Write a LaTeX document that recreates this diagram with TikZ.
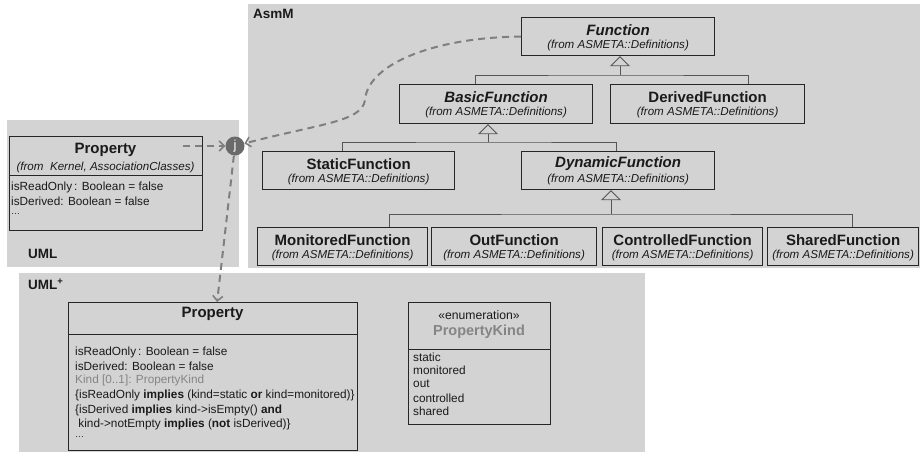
\documentclass[tikz,border=0pt]{standalone}
\usepackage{fontspec}
\setmainfont{Liberation Sans}
\usetikzlibrary{arrows.meta,calc}

\definecolor{pkgfill}{HTML}{D3D3D3}
\definecolor{boxline}{HTML}{262626}
\definecolor{txt}{HTML}{1A1A1A}
\definecolor{dimtxt}{HTML}{858585}
\definecolor{linkgray}{HTML}{7F7F7F}
\definecolor{treeline}{HTML}{555555}
\definecolor{joinfill}{HTML}{6A6A6A}

\tikzset{
  pkg/.style={fill=pkgfill, draw=none},
  pkglabel/.style={anchor=west, inner sep=0, text=txt, font=\fontsize{13.5}{15}\selectfont\bfseries},
  cls/.style={draw=boxline, line width=1.2pt, fill=pkgfill, inner sep=0, anchor=north west},
  ttl/.style={inner sep=0, text=txt, font=\fontsize{15}{17}\selectfont\bfseries},
  attl/.style={inner sep=0, text=txt, font=\fontsize{15}{17}\selectfont\bfseries\itshape},
  frm/.style={inner sep=0, text=txt, font=\fontsize{11.6}{13}\selectfont\itshape},
  attr/.style={anchor=west, inner sep=0, text=txt, font=\fontsize{11.8}{13}\selectfont},
  lit/.style={anchor=west, inner sep=0, text=txt, font=\fontsize{11.8}{13}\selectfont},
  sepline/.style={draw=boxline, line width=0.7pt},
  tree/.style={draw=treeline, line width=0.8pt},
  gen/.style={tree, -{Triangle[open, length=10pt, width=20pt, line width=0.8pt]}},
  dep/.style={draw=linkgray, line width=2pt, dash pattern=on 7pt off 5pt,
              -{Straight Barb[length=5pt, width=10pt, line width=1.6pt]}},
}

\begin{document}
\begin{tikzpicture}[x=1pt, y=-1pt]
\useasboundingbox (0,0) rectangle (920,452);

% ---------- packages ----------
\fill[pkg] (7,120) rectangle (239,267);
\fill[pkg] (248,4) rectangle (920,268);
\fill[pkg] (19,273) rectangle (645,452);
\node[pkglabel] (lasm) at (253,14) {AsmM};
\node[pkglabel] (luml) at (28,254) {UML};
\node[pkglabel] (lumlp) at (28,284) {UML\textsuperscript{+}};

% ---------- AsmM function hierarchy ----------
\node[cls, minimum width=193pt, minimum height=38pt] (fn)  at (521,17)  {};
\node[cls, minimum width=193pt, minimum height=39pt] (bf)  at (399,84)  {};
\node[cls, minimum width=194pt, minimum height=39pt] (df)  at (610,84)  {};
\node[cls, minimum width=192pt, minimum height=38pt] (sf)  at (262,151) {};
\node[cls, minimum width=193pt, minimum height=38pt] (dyn) at (521,151) {};
\node[cls, minimum width=170pt, minimum height=38pt] (mf)  at (257,227) {};
\node[cls, minimum width=165pt, minimum height=38pt] (of)  at (431,227) {};
\node[cls, minimum width=160pt, minimum height=38pt] (cf)  at (602,227) {};
\node[cls, minimum width=151pt, minimum height=38pt] (shf) at (767,227) {};

\foreach \b/\t/\s in {fn/Function/attl, bf/BasicFunction/attl, df/DerivedFunction/ttl,
                      sf/StaticFunction/ttl, dyn/DynamicFunction/attl,
                      mf/MonitoredFunction/ttl, of/OutFunction/ttl,
                      cf/ControlledFunction/ttl, shf/SharedFunction/ttl}{
  \node[\s] (\b-t) at ([yshift=-13pt]\b.north) {\t};
  \node[frm] (\b-f) at ([yshift=-28.5pt]\b.north) {(from ASMETA::Definitions)};
}

% generalisations
\coordinate (g1) at (620,75);
\draw[gen] (g1) -- (fn.south -| g1);
\draw[tree] (bf.north -| 475,0) |- (g1) -| (df.north -| 748,0);

\coordinate (g2) at (488,142);
\draw[gen] (g2) -- (bf.south -| g2);
\draw[tree] (sf.north -| 342,0) |- (g2) -| (dyn.north -| 616,0);

\coordinate (g3) at (611,214);
\draw[gen] (g3) -- (dyn.south -| g3);
\draw[tree] (mf.north -| 389,0) |- (g3) -| (shf.north -| 852,0);
\draw[tree] (of.north -| 540,0) -- (of.north -| 540,214);
\draw[tree] (cf.north -| 687,0) -- (cf.north -| 687,214);

% ---------- UML Property ----------
\node[cls, minimum width=193pt, minimum height=94pt] (p1) at (9,136) {};
\node[ttl] (p1-t) at (105.5,150) {Property};
\node[frm] (p1-f) at (105.5,167) {(from\ \ Kernel, AssociationClasses)};
\draw[sepline] (p1.west |- 0,175) -- (p1.east |- 0,175);
\node[attr] (p1-a1) at (11,187) {isReadOnly\,: Boolean = false};
\node[attr] (p1-a2) at (11,201) {isDerived: Boolean = false};
\node[attr] (p1-a3) at (11,214) {\small\ldots};

% ---------- UML+ Property ----------
\node[cls, minimum width=289pt, minimum height=148pt] (p2) at (68,302) {};
\node[ttl] (p2-t) at (212.5,314) {Property};
\draw[sepline] (p2.west |- 0,334) -- (p2.east |- 0,334);
\node[attr] (p2-a1) at (75,352) {isReadOnly\,: Boolean = false};
\node[attr] (p2-a2) at (75,366) {isDerived: Boolean = false};
\node[attr, text=dimtxt] (p2-a3) at (75,380) {Kind [0..1]: PropertyKind};
\node[attr] (p2-c1) at (75,395) {\{isReadOnly \textbf{implies} (kind=static \textbf{or} kind=monitored)\}};
\node[attr] (p2-c2) at (75,410) {\{isDerived \textbf{implies} kind->isEmpty() \textbf{and}};
\node[attr] (p2-c3) at (75,424) {\ kind->notEmpty \textbf{implies} (\textbf{not} isDerived)\}};
\node[attr] (p2-c4) at (75,437) {\small\ldots};

% ---------- PropertyKind enumeration ----------
\node[cls, minimum width=142pt, minimum height=122pt] (pk) at (408,302) {};
\node[lit, anchor=center, font=\fontsize{12.2}{14}\selectfont] (pk-s) at (479,315) {«enumeration»};
\node[ttl, text=dimtxt, font=\fontsize{14.5}{16}\selectfont\bfseries] (pk-t) at (479,332) {PropertyKind};
\draw[sepline] (pk.west |- 0,349) -- (pk.east |- 0,349);
\node[lit] (pk-1) at (413,357) {static};
\node[lit] (pk-2) at (413,370) {monitored};
\node[lit] (pk-3) at (413,384) {out};
\node[lit] (pk-4) at (413,398) {controlled};
\node[lit] (pk-5) at (413,411) {shared};

% ---------- join of Property with Function ----------
\node[circle, fill=joinfill, inner sep=0, minimum size=19pt, text=white,
      font=\fontsize{13}{15}\selectfont] (j) at (235,146) {j};

\draw[dep] ([xshift=-20pt]p1.north east |- j) -- (j);
\draw[dep] (fn.west) .. controls (440,37) and (368,62) .. (365,100)
                     .. controls (362,122) and (318,124) .. (j);
\draw[dep] (j) -- ([xshift=4pt]p2.north);

\end{tikzpicture}
\end{document}
